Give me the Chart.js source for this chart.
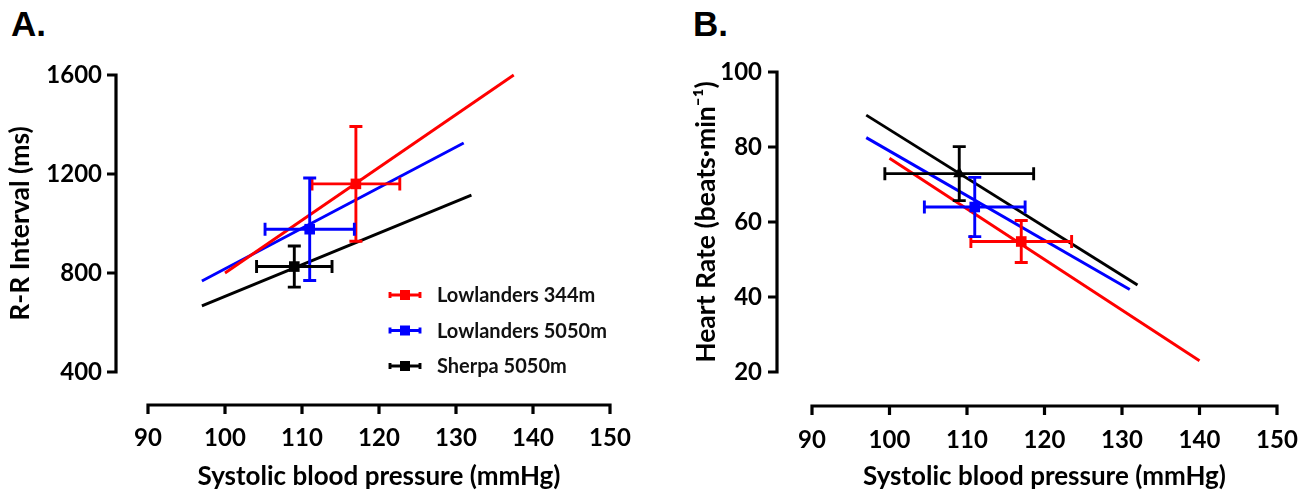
<!DOCTYPE html>
<html>
<head>
<meta charset="utf-8">
<script src="https://cdn.jsdelivr.net/npm/chart.js@4.4.1/dist/chart.umd.min.js"></script>
<style>
  body { margin: 0; background: #fff; width: 1309px; height: 492px; position: relative; overflow: hidden; }
  .panel { position: absolute; top: 0; height: 492px; }
  #wrapA { left: 0; width: 650px; }
  #wrapB { left: 680px; width: 629px; }
  .tag { position: absolute; font: bold 35px "Liberation Sans", Arial, sans-serif; line-height: 1; color: #000; }
</style>
</head>
<body>
<div class="tag" style="left:11px;top:6px">A.</div>
<div class="tag" style="left:693px;top:6px">B.</div>
<div id="wrapA" class="panel"><canvas id="chartA"></canvas></div>
<div id="wrapB" class="panel"><canvas id="chartB"></canvas></div>
<script>
// groups (same order in both panels)
const groups = ['Lowlanders 344m', 'Lowlanders 5050m', 'Sherpa 5050m'];
const groupColors = ['#ff0000', '#0000ff', '#000000'];
const xTicks = [90, 100, 110, 120, 130, 140, 150];
const rrTicks = [400, 800, 1200, 1600];
const hrTicks = [20, 40, 60, 80, 100];

// A: R-R interval vs SBP
const rrFitSbp = [[100, 137.5], [97, 131], [97, 132]];
const rrFitValue = [[800, 1600], [768, 1325], [667, 1115]];
const rrMeanSbp = [117, 111, 109];
const rrMeanValue = [1160, 977, 826];
const rrSbpErr = [5.7, 5.8, 4.9];
const rrValueErr = [232, 207, 83];

// B: heart rate vs SBP
const hrFitSbp = [[100, 140], [97, 131], [97, 132]];
const hrFitValue = [[77, 23], [82.5, 42], [88.5, 43.2]];
const hrMeanSbp = [117, 111, 109];
const hrMeanValue = [54.8, 64, 72.9];
const hrSbpErr = [6.5, 6.5, 9.6];
const hrValueErr = [5.6, 7.9, 7.2];

const FONT = 'Lato, "Open Sans", sans-serif';
const LINE_W = 2.9;

// prism style axes, pulled away from the plot area
const prismAxes = {
  id: 'prismAxes',
  afterDraw(chart, args, opts) {
    const { ctx, chartArea: a, scales: { x, y } } = chart;
    const ax = a.left - opts.yGap;
    const ay = a.bottom + opts.xGap;
    ctx.save();
    ctx.strokeStyle = '#000';
    ctx.lineWidth = 3.2;
    ctx.beginPath();
    ctx.moveTo(ax, y.getPixelForValue(y.max) - 1.6);
    ctx.lineTo(ax, y.getPixelForValue(y.min) + 1.6);
    y.ticks.forEach(t => {
      const py = y.getPixelForValue(t.value);
      ctx.moveTo(ax, py);
      ctx.lineTo(ax - 9, py);
    });
    ctx.moveTo(x.getPixelForValue(x.min) - 1.6, ay);
    ctx.lineTo(x.getPixelForValue(x.max) + 1.6, ay);
    x.ticks.forEach(t => {
      const px = x.getPixelForValue(t.value);
      ctx.moveTo(px, ay);
      ctx.lineTo(px, ay + 9);
    });
    ctx.stroke();
    ctx.restore();
  }
};

// mean +/- error bars in both directions
const errorBars = {
  id: 'errorBars',
  afterDatasetsDraw(chart, args, opts) {
    const { ctx, scales: { x, y } } = chart;
    const cap = 6.5;
    ctx.save();
    ctx.lineWidth = LINE_W;
    opts.mx.forEach((mx, i) => {
      const my = opts.my[i];
      const px = x.getPixelForValue(mx), py = y.getPixelForValue(my);
      const x0 = x.getPixelForValue(mx - opts.ex[i]), x1 = x.getPixelForValue(mx + opts.ex[i]);
      const y0 = y.getPixelForValue(my - opts.ey[i]), y1 = y.getPixelForValue(my + opts.ey[i]);
      ctx.strokeStyle = groupColors[i];
      ctx.beginPath();
      ctx.moveTo(x0, py); ctx.lineTo(x1, py);
      ctx.moveTo(x0, py - cap); ctx.lineTo(x0, py + cap);
      ctx.moveTo(x1, py - cap); ctx.lineTo(x1, py + cap);
      ctx.moveTo(px, y0); ctx.lineTo(px, y1);
      ctx.moveTo(px - cap, y0); ctx.lineTo(px + cap, y0);
      ctx.moveTo(px - cap, y1); ctx.lineTo(px + cap, y1);
      ctx.stroke();
    });
    ctx.restore();
  }
};

// legend drawn inside panel A
const innerLegend = {
  id: 'innerLegend',
  afterDraw(chart, args, opts) {
    if (!opts.show) return;
    const ctx = chart.ctx;
    ctx.save();
    groups.forEach((g, i) => {
      const yy = opts.top + i * opts.step;
      ctx.strokeStyle = groupColors[i];
      ctx.fillStyle = groupColors[i];
      ctx.lineWidth = LINE_W;
      ctx.beginPath();
      ctx.moveTo(opts.left, yy); ctx.lineTo(opts.left + 30, yy);
      ctx.moveTo(opts.left, yy - 3); ctx.lineTo(opts.left, yy + 3);
      ctx.moveTo(opts.left + 30, yy - 3); ctx.lineTo(opts.left + 30, yy + 3);
      ctx.stroke();
      ctx.fillRect(opts.left + 10, yy - 5, 10, 10);
      ctx.fillStyle = '#111';
      ctx.font = 'bold 20px ' + FONT;
      ctx.textBaseline = 'middle';
      ctx.fillText(g, opts.left + 47, yy + 1);
    });
    ctx.restore();
  }
};

function buildDatasets(fitX, fitY, mx, my, styles) {
  const sets = [];
  groups.forEach((g, i) => {
    sets.push({
      label: g,
      data: [{ x: mx[i], y: my[i] }],
      pointStyle: styles[i],
      pointRadius: styles[i] === 'triangle' ? 7 : 7.5,
      backgroundColor: groupColors[i],
      borderColor: groupColors[i],
      borderWidth: 0,
      clip: false
    });
  });
  groups.forEach((g, i) => {
    sets.push({
      label: g + ' fit',
      data: [{ x: fitX[i][0], y: fitY[i][0] }, { x: fitX[i][1], y: fitY[i][1] }],
      showLine: true,
      pointRadius: 0,
      borderColor: groupColors[i],
      borderWidth: LINE_W,
      clip: false
    });
  });
  return sets;
}

// tick labels are pushed out with tickLength (ticks.padding would also shrink the plot area)
function makeChart(id, cfg) {
  return new Chart(document.getElementById(id), {
    type: 'scatter',
    data: { datasets: buildDatasets(cfg.fitX, cfg.fitY, cfg.mx, cfg.my, cfg.styles) },
    options: {
      responsive: true,
      maintainAspectRatio: false,
      animation: false,
      layout: { padding: { left: 0, top: cfg.top, right: cfg.right, bottom: 0 } },
      scales: {
        x: {
          type: 'linear',
          min: 90, max: 150,
          afterBuildTicks: s => { s.ticks = xTicks.map(v => ({ value: v })); },
          afterFit: s => { s.height = 492 - cfg.bottom; },
          grid: { display: false, drawTicks: true, tickLength: cfg.xPad },
          border: { display: false },
          ticks: { color: '#000', padding: 0, callback: v => String(v),
                   font: { family: FONT, size: 24, weight: 'bold' } },
          title: { display: true, text: 'Systolic blood pressure (mmHg)', color: '#000', padding: 0,
                   font: { family: FONT, size: 26, weight: 'bold' } }
        },
        y: {
          type: 'linear',
          min: cfg.yTicks[0], max: cfg.yTicks[cfg.yTicks.length - 1],
          afterBuildTicks: s => { s.ticks = cfg.yTicks.map(v => ({ value: v })); },
          afterFit: s => { s.width = cfg.left; },
          grid: { display: false, drawTicks: true, tickLength: cfg.yPad },
          border: { display: false },
          ticks: { color: '#000', padding: 0, callback: v => String(v),
                   font: { family: FONT, size: 24, weight: 'bold' } },
          title: { display: true, text: cfg.yTitle, color: '#000', padding: { top: cfg.titlePad, bottom: 0 },
                   font: { family: FONT, size: 26.5, weight: 'bold' } }
        }
      },
      plugins: {
        legend: { display: false },
        tooltip: { enabled: false },
        prismAxes: { yGap: cfg.yGap, xGap: cfg.xGap },
        errorBars: { mx: cfg.mx, my: cfg.my, ex: cfg.ex, ey: cfg.ey },
        innerLegend: { show: cfg.legend, left: 390, top: 295, step: 35.5 }
      }
    },
    plugins: [prismAxes, errorBars, innerLegend]
  });
}

makeChart('chartA', {
  fitX: rrFitSbp, fitY: rrFitValue, mx: rrMeanSbp, my: rrMeanValue, ex: rrSbpErr, ey: rrValueErr,
  styles: ['rect', 'rect', 'rect'], yTicks: rrTicks, yTitle: 'R-R Interval (ms)',
  left: 148, top: 75, right: 40, bottom: 372, xPad: 52, yPad: 46, titlePad: 5,
  yGap: 32, xGap: 33, legend: true
});

makeChart('chartB', {
  fitX: hrFitSbp, fitY: hrFitValue, mx: hrMeanSbp, my: hrMeanValue, ex: hrSbpErr, ey: hrValueErr,
  styles: ['rect', 'rect', 'triangle'], yTicks: hrTicks, yTitle: 'Heart Rate (beats\u00b7min\u207b\u00b9)',
  left: 132, top: 72, right: 32, bottom: 372, xPad: 54, yPad: 50, titlePad: 11,
  yGap: 35, xGap: 34, legend: false
});
</script>
</body>
</html>
